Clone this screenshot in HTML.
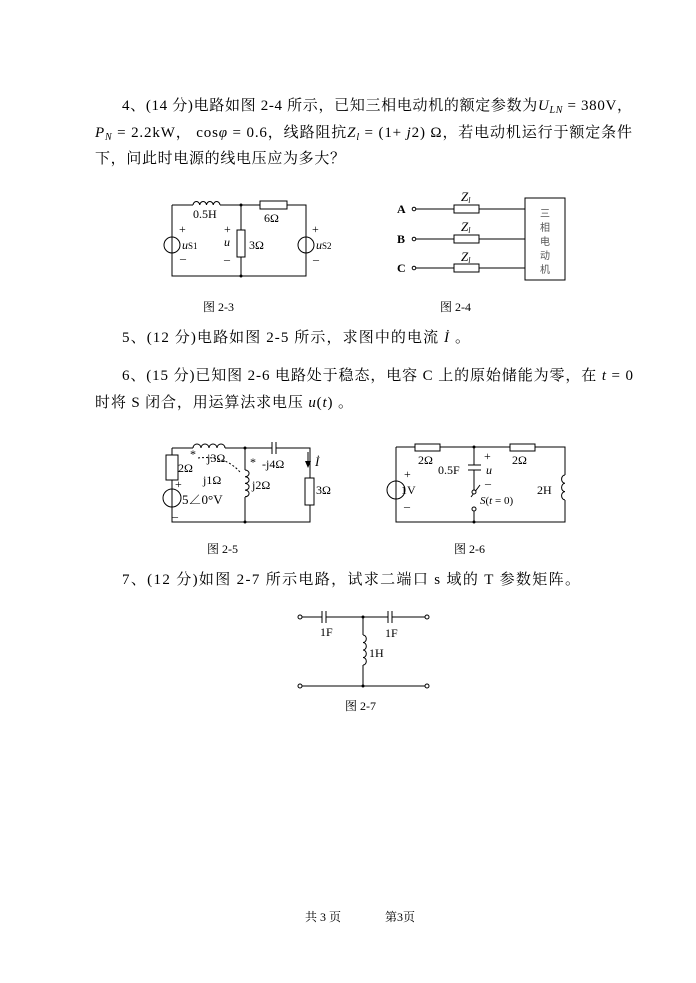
<!DOCTYPE html>
<html><head><meta charset="utf-8"><style>
body{margin:0;background:#fff;}
svg{display:block;font-family:"Liberation Serif","Noto Serif CJK SC","Noto Sans CJK SC",serif;}
.t{font-size:15px;}
.s{font-size:12px;}
.l{stroke:#000;stroke-width:1;fill:none;}
.w{stroke:#000;stroke-width:1;fill:#fff;}
</style></head><body>
<svg width="696" height="983" viewBox="0 0 696 983" xmlns="http://www.w3.org/2000/svg">
<g class="t">
<text x="122" y="110" textLength="510" lengthAdjust="spacing">4、(14 分)电路如图 2-4 所示，已知三相电动机的额定参数为<tspan font-style="italic">U</tspan><tspan font-size="10" font-style="italic" dy="3">LN</tspan><tspan dy="-3"> = 380V，</tspan></text>
<text x="95" y="137" textLength="537" lengthAdjust="spacing"><tspan font-style="italic">P</tspan><tspan font-size="10" font-style="italic" dy="3">N</tspan><tspan dy="-3"> = 2.2kW， cos</tspan><tspan font-style="italic">φ</tspan> = 0.6，线路阻抗<tspan font-style="italic">Z</tspan><tspan font-size="10" font-style="italic" dy="3">l</tspan><tspan dy="-3"> = (1+ </tspan><tspan font-style="italic">j</tspan>2) Ω，若电动机运行于额定条件</text>
<text x="95" y="163" textLength="250" lengthAdjust="spacing">下，问此时电源的线电压应为多大？</text>
<text x="122" y="342" textLength="348" lengthAdjust="spacing">5、(12 分)电路如图 2-5 所示，求图中的电流 <tspan font-style="italic">İ</tspan> 。</text>
<text x="122" y="380" textLength="511" lengthAdjust="spacing">6、(15 分)已知图 2-6 电路处于稳态，电容 C 上的原始储能为零，在 <tspan font-style="italic">t</tspan> = 0</text>
<text x="95" y="407" textLength="258" lengthAdjust="spacing">时将 S 闭合，用运算法求电压 <tspan font-style="italic">u</tspan>(<tspan font-style="italic">t</tspan>) 。</text>
<text x="122" y="584" textLength="458" lengthAdjust="spacing">7、(12 分)如图 2-7 所示电路，试求二端口 s 域的 T 参数矩阵。</text>
</g>
<g class="s">
<text x="203" y="311">图 2-3</text>
<text x="440" y="311">图 2-4</text>
<text x="207" y="553">图 2-5</text>
<text x="454" y="553">图 2-6</text>
<text x="345" y="710">图 2-7</text>
<text x="305" y="921">共 3 页</text>
<text x="385" y="921">第3页</text>
</g>

<!-- Fig 2-3 -->
<g class="l">
<path d="M172 205H193 M220 205H260 M287 205H306V237 M306 253V276H172V253 M172 237V205"/>
<path d="M193 205a3.4 4 0 0 1 6.75 0a3.4 4 0 0 1 6.75 0a3.4 4 0 0 1 6.75 0a3.4 4 0 0 1 6.75 0"/>
<path d="M241 205V230 M241 257V276"/>
<circle cx="172" cy="245" r="8"/><line x1="172" y1="237" x2="172" y2="253"/>
<circle cx="306" cy="245" r="8"/><line x1="306" y1="237" x2="306" y2="253"/>
</g>
<rect x="260" y="201" width="27" height="8" class="w"/>
<rect x="237" y="230" width="8" height="27" class="w"/>
<circle cx="241" cy="205" r="1.5"/><circle cx="241" cy="276" r="1.5"/>
<g font-size="12">
<text x="193" y="218">0.5H</text><text x="264" y="222">6Ω</text>
<text x="249" y="249">3Ω</text>
<text x="179" y="233">+</text><text x="180" y="262">–</text><text x="182" y="249" font-style="italic">u<tspan font-size="9" font-style="normal">S1</tspan></text>
<text x="224" y="233">+</text><text x="224" y="263">–</text><text x="224" y="246" font-style="italic">u</text>
<text x="312" y="233">+</text><text x="313" y="263">–</text><text x="316" y="249" font-style="italic">u<tspan font-size="9" font-style="normal">S2</tspan></text>
</g>

<!-- Fig 2-4 -->
<g class="l">
<circle cx="414" cy="209" r="1.8"/><circle cx="414" cy="239" r="1.8"/><circle cx="414" cy="268" r="1.8"/>
<path d="M416 209H525 M416 239H525 M416 268H525"/>
<rect x="525" y="198" width="40" height="82"/>
</g>
<rect x="454" y="205" width="25" height="8" class="w"/>
<rect x="454" y="235" width="25" height="8" class="w"/>
<rect x="454" y="264" width="25" height="8" class="w"/>
<g font-size="12" font-weight="bold"><text x="397" y="213">A</text><text x="397" y="243">B</text><text x="397" y="272">C</text></g>
<g font-size="13" font-style="italic"><text x="461" y="201">Z<tspan font-size="8" dy="2">l</tspan></text><text x="461" y="231">Z<tspan font-size="8" dy="2">l</tspan></text><text x="461" y="261">Z<tspan font-size="8" dy="2">l</tspan></text></g>
<g font-size="10" fill="#555" font-family="Liberation Sans,Noto Sans CJK SC,sans-serif"><text x="540" y="217">三</text><text x="540" y="231">相</text><text x="540" y="245">电</text><text x="540" y="259">动</text><text x="540" y="273">机</text></g>

<!-- Fig 2-5 -->
<g class="l">
<path d="M172 448H193 M225 448H272 M276 448H310V478 M310 505V522H172V507 M172 489V480 M172 455V448"/>
<path d="M193 448a4 4 0 0 1 8 0a4 4 0 0 1 8 0a4 4 0 0 1 8 0a4 4 0 0 1 8 0"/>
<path d="M272 442V454 M276 442V454"/>
<path d="M245 448V470 M245 470a4 3.3 0 0 1 0 6.7a4 3.3 0 0 1 0 6.7a4 3.3 0 0 1 0 6.7a4 3.3 0 0 1 0 6.7 M245 497V522"/>
<circle cx="172" cy="498" r="9"/><line x1="172" y1="489" x2="172" y2="507"/>
<path d="M198 458Q225 455 240 472" stroke-dasharray="2 2"/>
<path d="M308 452V462"/>
</g>
<path d="M305 461L308 468L311 461Z"/>
<rect x="166" y="455" width="12" height="25" class="w"/>
<rect x="305" y="478" width="9" height="27" class="w"/>
<circle cx="245" cy="448" r="1.5"/><circle cx="245" cy="522" r="1.5"/>
<g font-size="12">
<text x="190" y="458">*</text><text x="250" y="466">*</text>
<text x="207" y="462">j3Ω</text><text x="262" y="468">-j4Ω</text>
<text x="178" y="472">2Ω</text><text x="175" y="488">+</text>
<text x="203" y="484">j1Ω</text><text x="252" y="489">j2Ω</text>
<text x="316" y="494">3Ω</text>
<text x="182" y="504" font-size="13">5∠0°V</text><text x="172" y="520">–</text>
<text x="315" y="466" font-style="italic" font-size="13">İ</text>
</g>

<!-- Fig 2-6 -->
<g class="l">
<path d="M396 447H415 M440 447H510 M535 447H565V475 M565 500V522H396V499 M396 481V447"/>
<path d="M565 475a3.3 4 0 0 0 0 8.3a3.3 4 0 0 0 0 8.3a3.3 4 0 0 0 0 8.3"/>
<path d="M474 447V465 M468 465H481 M468 470H481 M474 470V490 M474 510V522 M471 497L480 485"/>
<circle cx="396" cy="490" r="9"/><line x1="396" y1="481" x2="396" y2="499"/>
</g>
<circle cx="474" cy="492" r="2" class="w"/><circle cx="474" cy="509" r="2" class="w"/>
<rect x="415" y="444" width="25" height="7" class="w"/>
<rect x="510" y="444" width="25" height="7" class="w"/>
<circle cx="474" cy="447" r="1.5"/><circle cx="474" cy="522" r="1.5"/>
<g font-size="12">
<text x="418" y="464">2Ω</text><text x="512" y="464">2Ω</text>
<text x="484" y="460">+</text><text x="438" y="474">0.5F</text><text x="486" y="474" font-style="italic">u</text>
<text x="485" y="487">–</text><text x="404" y="478">+</text><text x="401" y="494">1V</text><text x="404" y="510">–</text>
<text x="537" y="494">2H</text>
<text x="480" y="504" font-size="11"><tspan font-style="italic">S</tspan>(<tspan font-style="italic">t</tspan> = 0)</text>
</g>

<!-- Fig 2-7 -->
<g class="l">
<path d="M302 617H322 M326 617H388 M392 617H425 M302 686H425 M363 617V635 M363 665V686"/>
<path d="M322 611V623 M326 611V623 M388 611V623 M392 611V623"/>
<path d="M363 635a3.3 3.75 0 0 1 0 7.5a3.3 3.75 0 0 1 0 7.5a3.3 3.75 0 0 1 0 7.5a3.3 3.75 0 0 1 0 7.5"/>
</g>
<g class="w"><circle cx="300" cy="617" r="2"/><circle cx="427" cy="617" r="2"/><circle cx="300" cy="686" r="2"/><circle cx="427" cy="686" r="2"/></g>
<circle cx="363" cy="617" r="1.5"/><circle cx="363" cy="686" r="1.5"/>
<g font-size="12"><text x="320" y="636">1F</text><text x="385" y="637">1F</text><text x="369" y="657">1H</text></g>
</svg>
</body></html>
